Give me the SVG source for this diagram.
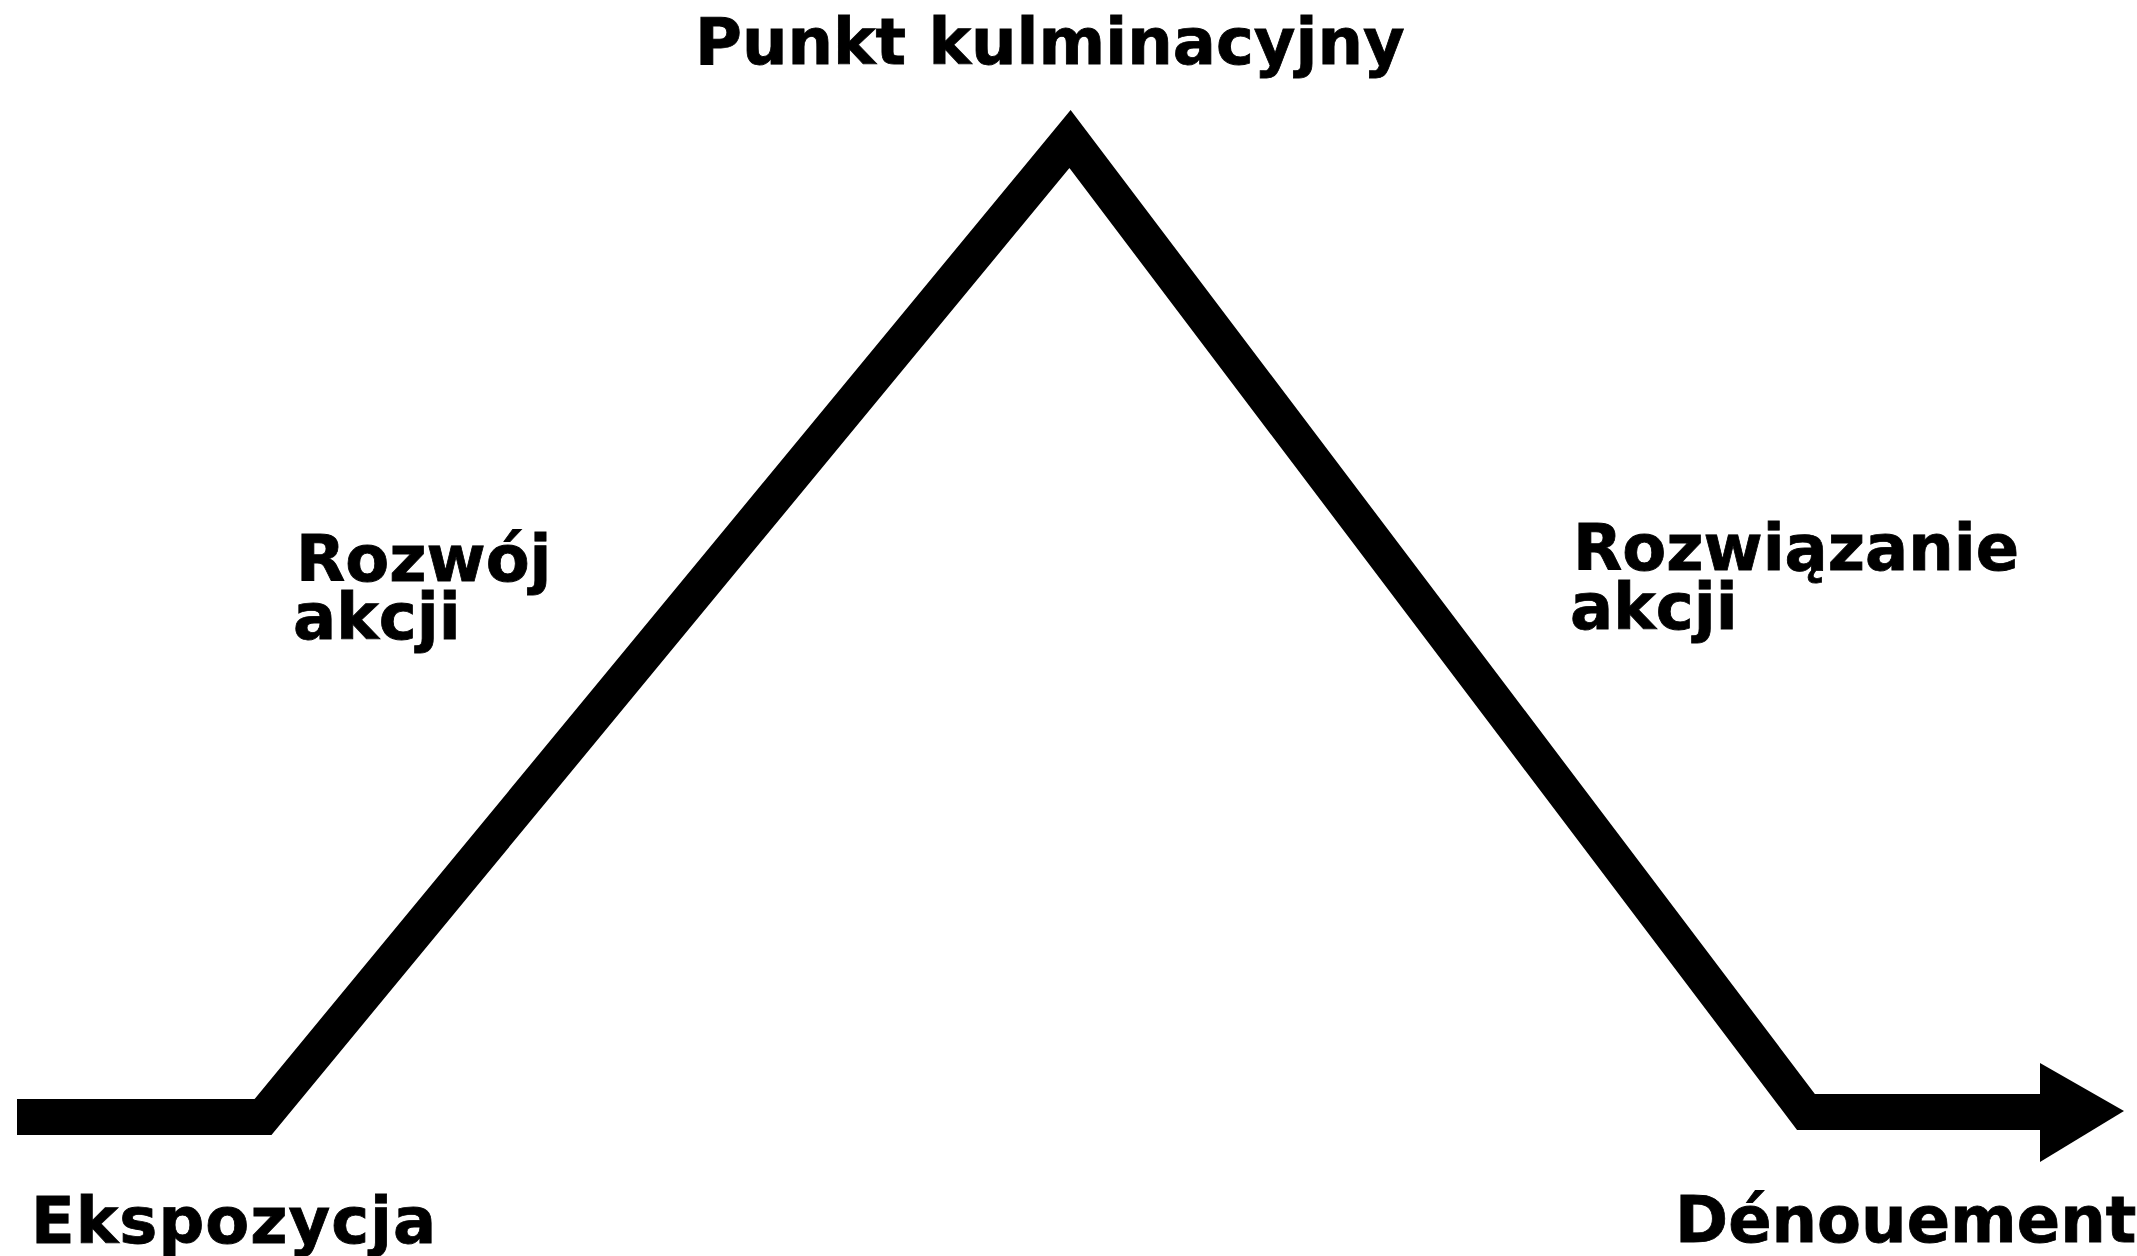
<svg xmlns="http://www.w3.org/2000/svg" width="2137" height="1256" viewBox="0 0 2137 1256">
  <style>
    .lbl { font-family: "DejaVu Sans", Verdana, sans-serif; font-weight: bold; font-size: 64px; fill: #000; stroke: #000; stroke-width: 0.8; }
    .plot { fill: none; stroke: #000; stroke-width: 36; stroke-linejoin: miter; stroke-miterlimit: 10; stroke-linecap: butt; }
  </style>
  <rect width="2137" height="1256" fill="#fff"/>
  <g id="connectors">
    <polyline class="plot" points="17,1117 263,1117 1070,139 1806,1112 2042,1112"/>
    <polygon points="2040,1063 2124,1111 2040,1162" fill="#000"/>
  </g>
  <g id="node-climax">
    <text class="lbl" x="695" y="64">Punkt kulminacyjny</text>
  </g>
  <g id="node-rising">
    <text class="lbl" x="296" y="581">Rozwój<tspan x="293" y="639">akcji</tspan></text>
  </g>
  <g id="node-falling">
    <text class="lbl" x="1573" y="570">Rozwiązanie<tspan x="1570" y="629">akcji</tspan></text>
  </g>
  <g id="node-exposition">
    <text class="lbl" x="31" y="1243" letter-spacing="1">Ekspozycja</text>
  </g>
  <g id="node-denouement">
    <text class="lbl" x="1675" y="1242">Dénouement</text>
  </g>
</svg>
